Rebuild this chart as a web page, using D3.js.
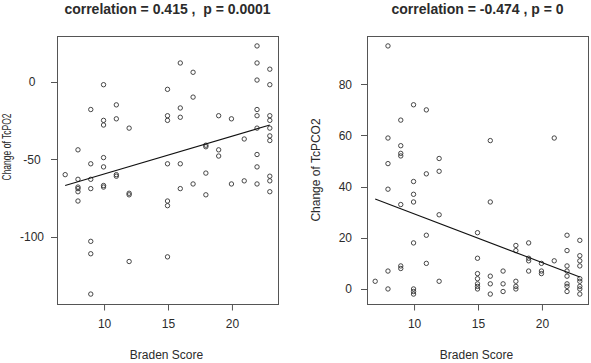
<!DOCTYPE html>
<html lang="en">
<head>
  <meta charset="UTF-8">
  <title>Braden Score vs TcPO2 / TcPCO2</title>
  <script src="https://d3js.org/d3.v7.min.js"></script>
  <style>
    body { margin: 0; background: #fff; }
    svg text { font-family: "Liberation Sans", Arial, sans-serif; fill: #2b2b2b; }
  </style>
</head>
<body>
  <svg id="chart" width="591" height="363"></svg>

  <script>
    // left panel: Braden score vs change of TcPO2
    const po2Braden = [
      7,
      8, 8, 8, 8, 8, 8,
      9, 9, 9, 9, 9, 9, 9,
      10, 10, 10, 10, 10, 10, 10,
      11, 11, 11, 11,
      12, 12, 12, 12,
      15, 15, 15, 15, 15, 15, 15,
      16, 16, 16, 16, 16,
      17, 17, 17,
      18, 18, 18, 18,
      19, 19, 19,
      20, 20,
      21, 21,
      22, 22, 22, 22, 22, 22, 22, 22, 22,
      23, 23, 23, 23, 23, 23, 23, 23, 23, 23
    ];
    const po2Change = [
      -60,
      -44, -63, -68, -69, -71, -77,
      -18, -53, -63, -69, -103, -111, -137,
      -2, -25, -28, -49, -55, -67, -68,
      -15, -24, -60, -61,
      -30, -72, -73, -116,
      -5, -22, -25, -53, -77, -80, -113,
      12, -17, -23, -53, -69,
      6, -10, -66,
      -41, -42, -59, -73,
      -22, -44, -48,
      -24, -66,
      -37, -64,
      23, 12, 1, -18, -22, -30, -47, -55, -66,
      8, -2, -22, -25, -30, -35, -38, -61, -64, -71
    ];
    const po2Fit = [[7, -67], [23, -28]];

    // right panel: Braden score vs change of TcPCO2
    const pco2Braden = [
      7,
      8, 8, 8, 8, 8, 8,
      9, 9, 9, 9, 9, 9, 9,
      10, 10, 10, 10, 10, 10, 10, 10,
      11, 11, 11, 11,
      12, 12, 12, 12,
      15, 15, 15, 15, 15, 15, 15,
      16, 16, 16, 16, 16,
      17, 17, 17,
      18, 18, 18, 18, 18,
      19, 19, 19, 19,
      20, 20, 20,
      21, 21,
      22, 22, 22, 22, 22, 22, 22, 22,
      23, 23, 23, 23, 23, 23, 23, 23, 23
    ];
    const pco2Change = [
      3,
      95, 59, 49, 39, 7, 0,
      66, 56, 53, 52, 33, 9, 8,
      72, 42, 37, 34, 18, 0, -1, -2,
      70, 45, 21, 10,
      51, 46, 29, 3,
      22, 12, 6, 4, 2, 1, 0,
      58, 34, 5, 2, -2,
      7, 2, -1,
      17, 15, 3, 1, 0,
      18, 12, 11, 7,
      10, 7, 6,
      59, 11,
      21, 15, 9, 7, 5, 2, 1, -1,
      19, 13, 11, 9, 4, 3, 1, 0, -2
    ];
    const pco2Fit = [[7, 35.2], [23, 4.7]];

    const xTicks = [10, 15, 20];
    const po2Ticks = [0, -50, -100];
    const pco2Ticks = [0, 20, 40, 60, 80];

    const svg = d3.select("#chart");

    // R-style axis range: data extent plus 4% each side
    function rDomain(vals) {
      const [lo, hi] = d3.extent(vals);
      const pad = (hi - lo) * 0.04;
      return [lo - pad, hi + pad];
    }

    const panels = [
      { xs: po2Braden, ys: po2Change, fit: po2Fit, yTicks: po2Ticks,
        title: "correlation = 0.415 ,  p = 0.0001", ylab: "Change of TcPO2",
        left: 57, right: 278, tickLabelX: 32, tickAnchor: "middle",
        ylabX: 11, ylabY: 147, ylabLen: 67 },
      { xs: pco2Braden, ys: pco2Change, fit: pco2Fit, yTicks: pco2Ticks,
        title: "correlation = -0.474 , p = 0", ylab: "Change of TcPCO2",
        left: 367, right: 588, tickLabelX: 352, tickAnchor: "end",
        ylabX: 320, ylabY: 170, ylabLen: null }
    ];

    const plotTop = 36, plotBottom = 304;

    panels.forEach(p => {
      const x = d3.scaleLinear().domain(rDomain(p.xs)).range([p.left, p.right]);
      const y = d3.scaleLinear().domain(rDomain(p.ys)).range([plotBottom, plotTop]);
      const g = svg.append("g");

      // box
      g.append("rect")
        .attr("x", p.left + 0.5).attr("y", plotTop + 0.5)
        .attr("width", p.right - p.left).attr("height", plotBottom - plotTop)
        .attr("fill", "none").attr("stroke", "#555").attr("stroke-width", 1);

      // x axis
      const xAxis = d3.axisBottom(x).tickValues(xTicks).tickSize(6).tickPadding(9);
      const gx = g.append("g").attr("transform", `translate(0.5,${plotBottom + 0.5})`).call(xAxis);
      gx.select(".domain").remove();
      gx.selectAll("line").attr("stroke", "#555");
      gx.selectAll("text").attr("font-size", 12).attr("fill", "#2b2b2b")
        .attr("font-family", "Liberation Sans, Arial, sans-serif");

      // y axis ticks
      const gy = g.append("g");
      gy.selectAll("line").data(p.yTicks).join("line")
        .attr("x1", p.left - 6).attr("x2", p.left)
        .attr("y1", d => Math.round(y(d)) + 0.5).attr("y2", d => Math.round(y(d)) + 0.5)
        .attr("stroke", "#555");
      gy.selectAll("text").data(p.yTicks).join("text")
        .attr("x", p.tickLabelX).attr("y", d => y(d) + 4.5)
        .attr("text-anchor", p.tickAnchor).attr("font-size", 12)
        .text(d => d);

      // points
      g.selectAll("circle").data(p.xs.map((v, i) => [v, p.ys[i]])).join("circle")
        .attr("cx", d => x(d[0])).attr("cy", d => y(d[1])).attr("r", 2.2)
        .attr("fill", "none").attr("stroke", "#333").attr("stroke-width", 0.9);

      // fit line
      g.append("path")
        .attr("d", d3.line().x(d => x(d[0])).y(d => y(d[1]))(p.fit))
        .attr("fill", "none").attr("stroke", "#111").attr("stroke-width", 1.1);

      // title (keep the double space)
      g.append("text")
        .attr("x", (p.left + p.right) / 2).attr("y", 13.5)
        .attr("text-anchor", "middle").attr("font-size", 14).attr("font-weight", "bold")
        .attr("fill", "#111").style("white-space", "pre")
        .text(p.title);

      // x label
      g.append("text")
        .attr("x", (p.left + p.right) / 2 - 1).attr("y", 359)
        .attr("text-anchor", "middle").attr("font-size", 12)
        .text("Braden Score");

      // y label
      const yl = g.append("text")
        .attr("transform", `translate(${p.ylabX},${p.ylabY}) rotate(-90)`)
        .attr("text-anchor", "middle").attr("font-size", 12)
        .text(p.ylab);
      if (p.ylabLen) yl.attr("textLength", p.ylabLen).attr("lengthAdjust", "spacingAndGlyphs");
    });
  </script>
</body>
</html>
